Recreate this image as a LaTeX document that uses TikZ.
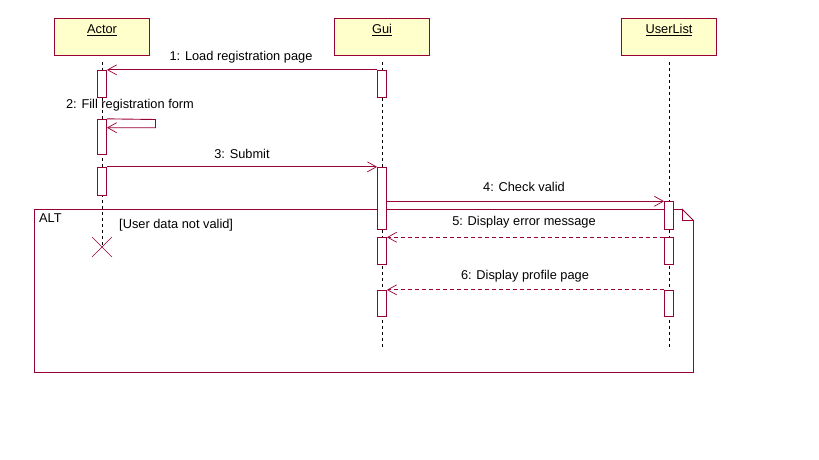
\documentclass[tikz,border=0pt]{standalone}
\usepackage{fontspec}
\setmainfont{Liberation Sans}
\usetikzlibrary{arrows.meta}
\definecolor{umlred}{RGB}{153,0,51}
\definecolor{umlfill}{RGB}{255,255,204}
\tikzset{
  obj/.style={draw=umlred, fill=umlfill, line width=0.9pt, minimum width=95pt, minimum height=37pt, inner sep=0pt},
  objtxt/.style={font=\fontsize{12.8}{14}\selectfont, inner sep=0pt, anchor=base},
  life/.style={draw=black, line width=0.8pt, dash pattern=on 3pt off 3pt},
  actbox/.style={draw=umlred, fill=white, line width=0.9pt, minimum width=9pt, inner sep=0pt},
  msg/.style={draw=umlred, line width=0.9pt, -{Straight Barb[length=9pt,width=10pt,line width=0.7pt]}},
  retmsg/.style={msg, dash pattern=on 4pt off 3pt},
  lbl/.style={font=\fontsize{12.8}{14}\selectfont, inner sep=0pt},
  frame/.style={draw=umlred, line width=0.9pt}
}
\begin{document}
\begin{tikzpicture}[x=1pt,y=-1pt]
\useasboundingbox (0,0) rectangle (819,460);
% objects
\node[obj] (actor) at (101.5,36.5) {};
\node[obj] (gui) at (381.5,36.5) {};
\node[obj] (ul) at (669,36.5) {};
\node[objtxt] (actorT) at (102,34) {\underline{Actor}};
\node[objtxt] (guiT) at (382,34) {\underline{Gui}};
\node[objtxt] (ulT) at (669,34) {\underline{UserList}};
% lifelines
\coordinate (aTop) at (102,62);
\coordinate (aEnd) at (102,247);
\coordinate (gTop) at (382,62);
\coordinate (gEnd) at (382,347);
\coordinate (uTop) at (669,62);
\coordinate (uEnd) at (669,347);
\draw[life] (aTop) -- (aEnd);
\draw[life] (gTop) -- (gEnd);
\draw[life] (uTop) -- (uEnd);
% ALT frame
\coordinate (fTL) at (34.5,209.5);
\coordinate (fC1) at (682.5,209.5);
\coordinate (fC2) at (682.5,220.5);
\coordinate (fC3) at (693.5,220.5);
\coordinate (fBR) at (693.5,372.5);
\coordinate (fBL) at (34.5,372.5);
\draw[frame] (fC1) -- (fTL) -- (fBL) -- (fBR) -- (fC3) -- (fC1) -- (fC2) -- (fC3);
\node[lbl, anchor=west] (alt) at (39,218.5) {ALT};
\node[lbl, anchor=west] (guard) at (119,225.5) {[User data not valid]};
% activations
\node[actbox, minimum height=27pt] (a1) at (102,83.8) {};
\node[actbox, minimum height=35pt] (a2) at (102,136.8) {};
\node[actbox, minimum height=28pt] (a3) at (102,181.3) {};
\node[actbox, minimum height=27pt] (g1) at (382,83.8) {};
\node[actbox, minimum height=62pt] (g2) at (382,198.3) {};
\node[actbox, minimum height=26.6pt] (g3) at (382,251) {};
\node[actbox, minimum height=26.6pt] (g4) at (382,303.6) {};
\node[actbox, minimum height=27.6pt] (u1) at (669,215.5) {};
\node[actbox, minimum height=26.6pt] (u2) at (669,251) {};
\node[actbox, minimum height=26.6pt] (u3) at (669,303.6) {};
% destruction
\draw[draw=umlred, line width=0.7pt] (92,237) -- (112,257) (92,257) -- (112,237);
% messages
\draw[msg] (g1.north west) -- (a1.north east);
\node[lbl] (m1) at (241,57) {1: Load registration page};
\coordinate (s1) at (155.5,119.5);
\coordinate (s2) at (155.5,127.7);
\draw[msg] (a2.north east) -- (s1) -- (s2) -- (a2.east |- s2);
\node[lbl] (m2) at (130,105.5) {2: Fill registration form};
\draw[msg] (a3.north east) -- (g2.north west);
\node[lbl] (m3) at (242,153.5) {3: Submit};
\draw[msg] (g2.east |- u1.north) -- (u1.north west);
\node[lbl] (m4) at (524,187) {4: Check valid};
\draw[retmsg] (u2.north west) -- (g3.north east);
\node[lbl] (m5) at (524,222.5) {5: Display error message};
\draw[retmsg] (u3.north west) -- (g4.north east);
\node[lbl] (m6) at (525,276.5) {6: Display profile page};
\end{tikzpicture}
\end{document}
